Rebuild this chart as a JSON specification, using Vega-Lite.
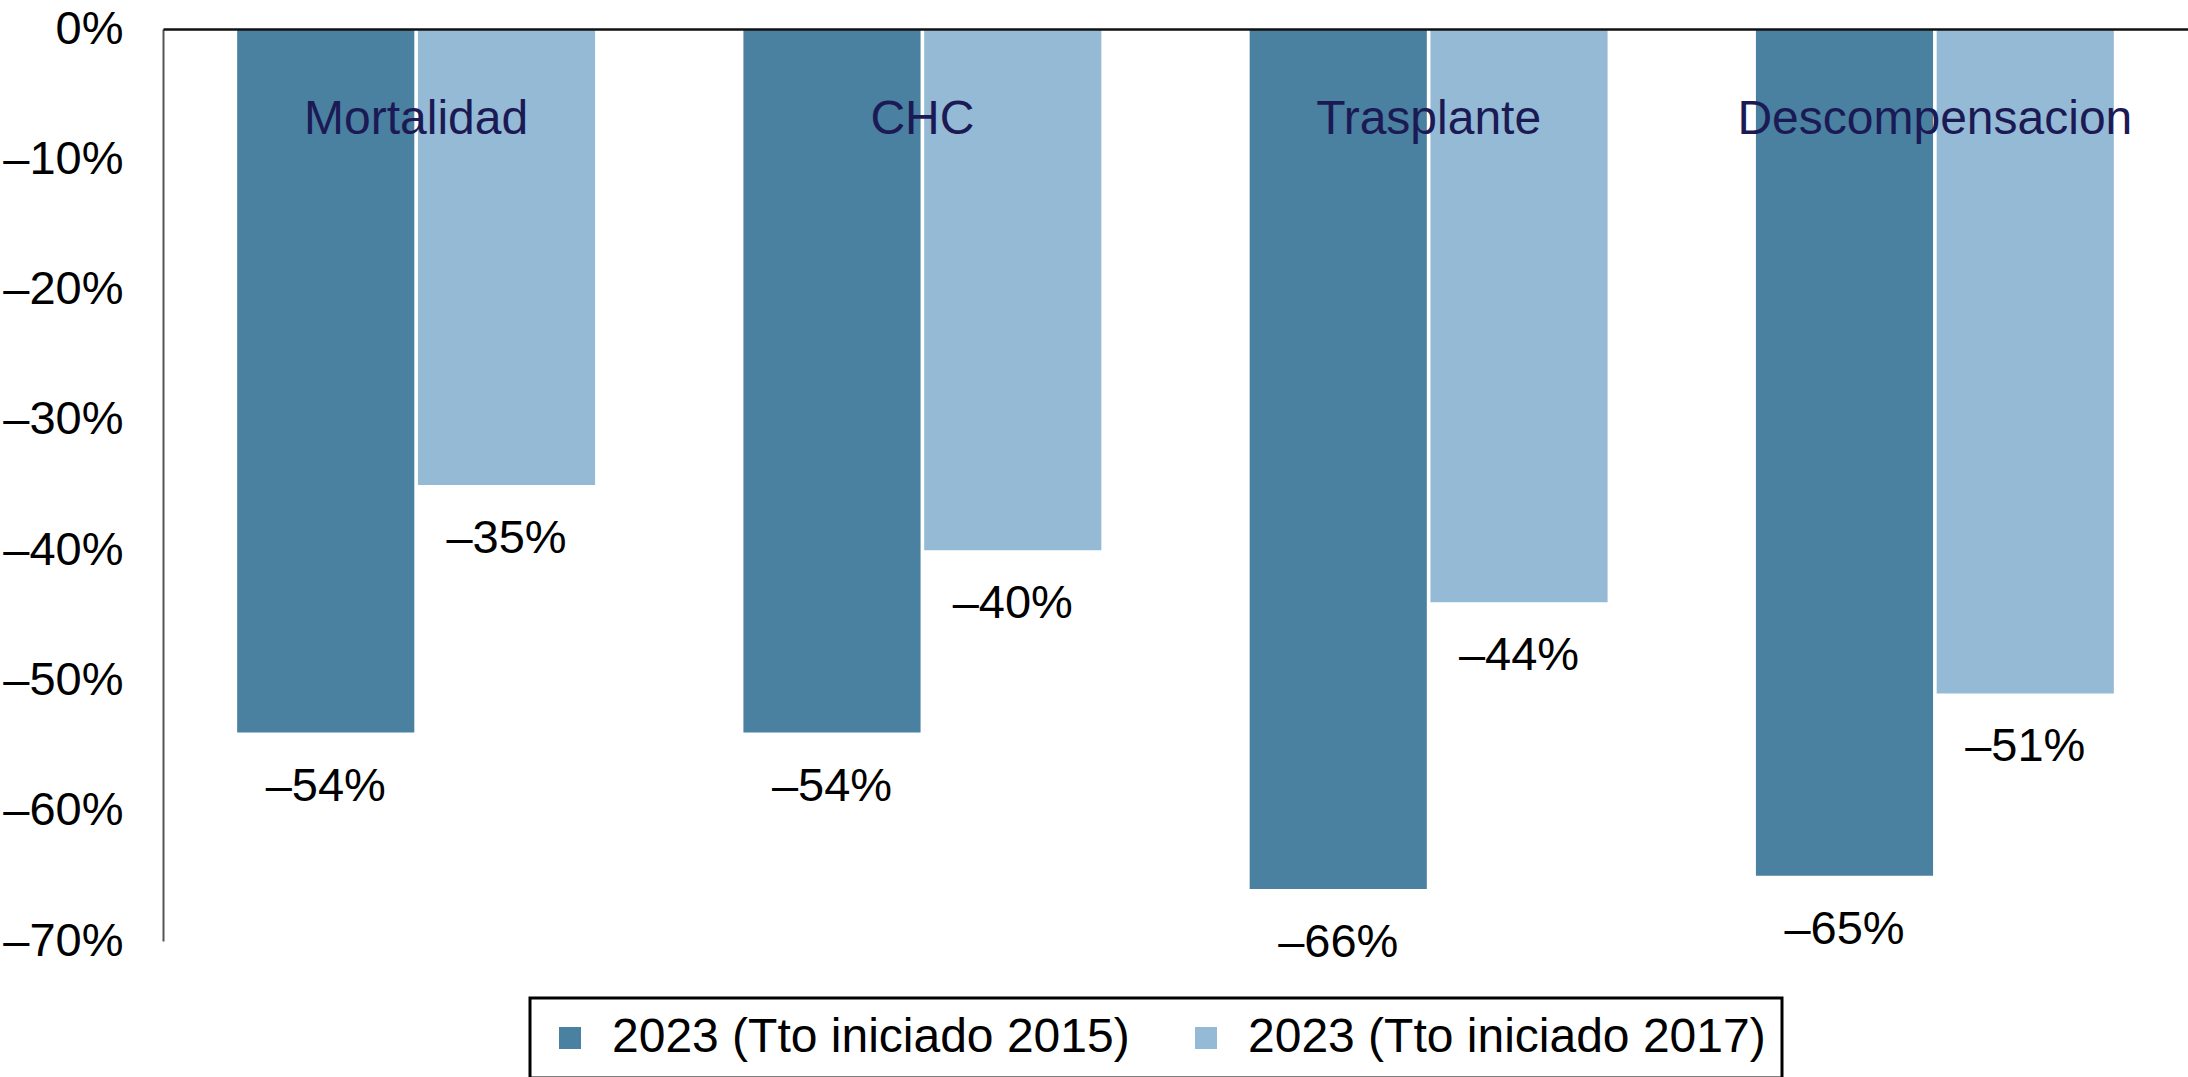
{
  "$schema": "https://vega.github.io/schema/vega-lite/v6.json",
  "width": 2025,
  "height": 912,
  "autosize": {"type": "none"},
  "padding": {"left": 163, "top": 29, "right": 0, "bottom": 136},
  "background": "white",
  "config": {"view": {"stroke": null}, "font": "Liberation Sans"},
  "data": {
    "values": [
      {"categoria": "Mortalidad", "serie": "2023 (Tto iniciado 2015)", "value": -54},
      {"categoria": "Mortalidad", "serie": "2023 (Tto iniciado 2017)", "value": -35},
      {"categoria": "CHC", "serie": "2023 (Tto iniciado 2015)", "value": -54},
      {"categoria": "CHC", "serie": "2023 (Tto iniciado 2017)", "value": -40},
      {"categoria": "Trasplante", "serie": "2023 (Tto iniciado 2015)", "value": -66},
      {"categoria": "Trasplante", "serie": "2023 (Tto iniciado 2017)", "value": -44},
      {"categoria": "Descompensacion", "serie": "2023 (Tto iniciado 2015)", "value": -65},
      {"categoria": "Descompensacion", "serie": "2023 (Tto iniciado 2017)", "value": -51}
    ]
  },
  "transform": [{"calculate": "'–' + abs(datum.value) + '%'", "as": "label"}],
  "encoding": {
    "x": {
      "field": "categoria",
      "type": "nominal",
      "sort": ["Mortalidad", "CHC", "Trasplante", "Descompensacion"],
      "scale": {"paddingInner": 0.293, "paddingOuter": 0.1465},
      "axis": {
        "orient": "top",
        "title": null,
        "ticks": false,
        "tickSize": 0,
        "labelPadding": -104,
        "labelBaseline": "alphabetic",
        "labelFontSize": 48,
        "labelColor": "#1b1a55",
        "labelAngle": 0,
        "labelLimit": 0,
        "labelOverlap": false,
        "domainColor": "#111111",
        "domainWidth": 2.5,
        "zindex": 1
      }
    },
    "xOffset": {
      "field": "serie",
      "type": "nominal",
      "sort": ["2023 (Tto iniciado 2015)", "2023 (Tto iniciado 2017)"],
      "scale": {"paddingInner": 0.02}
    },
    "y": {
      "field": "value",
      "type": "quantitative",
      "scale": {"domain": [-70, 0], "nice": false},
      "axis": {
        "title": null,
        "grid": false,
        "ticks": false,
        "tickSize": 0,
        "values": [0, -10, -20, -30, -40, -50, -60, -70],
        "labelExpr": "datum.value == 0 ? '0%' : '–' + abs(datum.value) + '%'",
        "labelPadding": 40,
        "labelFontSize": 47,
        "labelColor": "#000000",
        "labelBaseline": "middle",
        "domainColor": "#555555",
        "domainWidth": 2
      }
    }
  },
  "layer": [
    {
      "mark": {"type": "bar"},
      "encoding": {
        "color": {
          "field": "serie",
          "type": "nominal",
          "sort": ["2023 (Tto iniciado 2015)", "2023 (Tto iniciado 2017)"],
          "scale": {"range": ["#4a80a0", "#95bad5"]},
          "legend": {
            "orient": "none",
            "legendX": 367,
            "legendY": 969,
            "direction": "horizontal",
            "title": null,
            "labelFontSize": 48,
            "labelColor": "#000000",
            "symbolType": "square",
            "symbolSize": 484,
            "symbolStrokeWidth": 0,
            "symbolOpacity": 1,
            "labelOffset": 18,
            "columnPadding": 52,
            "padding": 16,
            "strokeColor": "#000000",
            "fillColor": "white",
            "labelLimit": 1000,
            "encode": {"legend": {"update": {"strokeWidth": {"value": 3}}}}
          }
        }
      }
    },
    {
      "mark": {"type": "text", "baseline": "middle", "dy": 54, "fontSize": 47, "color": "#000000"},
      "encoding": {"text": {"field": "label"}}
    }
  ]
}
